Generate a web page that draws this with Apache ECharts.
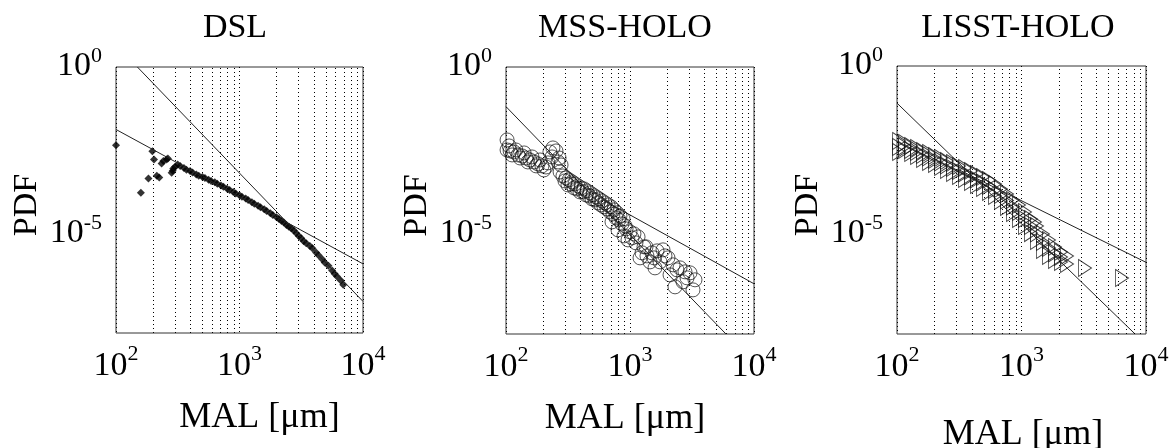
<!DOCTYPE html>
<html>
<head>
<meta charset="utf-8">
<script src="https://cdn.jsdelivr.net/npm/echarts@6/dist/echarts.min.js"></script>
<style>
  html, body { margin: 0; padding: 0; background: #fff; }
  #chart { width: 1171px; height: 448px; }
</style>
</head>
<body>
<div id="chart"></div>
<script>
// Panel titles and axis text
const panelTitles = ['DSL', 'MSS-HOLO', 'LISST-HOLO'];
const xAxisName = 'MAL [μm]';
const yAxisName = 'PDF';

// Axis ranges and labelled decades
const xRange = [100, 10000];
const yRange = [1e-8, 1];
const yLabelledExponents = [0, -5];

// Dotted grid positions (minor x decades and the single y grid line)
const xMinorGrid = [200, 300, 400, 500, 600, 700, 800, 900, 2000, 3000, 4000, 5000, 6000, 7000, 8000, 9000];
const yGrid = [1e-5];

// DSL: [MAL, PDF]
const dslPoints = [
  [100, 4.47e-3], [159, 1.66e-4], [183, 4.47e-4], [197, 2.95e-3], [203, 1.66e-3], [214, 5.37e-4],
  [224, 4.79e-4], [234, 1.26e-3], [242, 1.48e-3], [257, 1.66e-3], [263, 1.78e-3], [282, 6.61e-4],
  [288, 7.59e-4], [291, 8.91e-4], [301, 1.0e-3],
  [316, 1.175e-3], [331, 1.047e-3], [355, 9.12e-4], [372, 8.13e-4], [398, 7.41e-4], [417, 6.76e-4],
  [447, 5.89e-4], [468, 5.37e-4], [501, 4.90e-4], [525, 4.57e-4], [562, 4.07e-4], [589, 3.72e-4],
  [631, 3.39e-4], [661, 3.09e-4], [708, 2.75e-4], [741, 2.51e-4], [794, 2.19e-4], [832, 2.00e-4],
  [891, 1.74e-4], [933, 1.58e-4], [1000, 1.38e-4], [1047, 1.26e-4], [1122, 1.10e-4], [1175, 1.00e-4],
  [1259, 8.51e-5], [1318, 7.76e-5], [1413, 6.76e-5], [1479, 6.03e-5], [1585, 5.25e-5], [1660, 4.68e-5],
  [1778, 3.98e-5], [1862, 3.55e-5], [1995, 3.02e-5], [2089, 2.69e-5], [2188, 2.34e-5], [2291, 2.09e-5],
  [2399, 1.78e-5], [2512, 1.58e-5], [2630, 1.38e-5], [2754, 1.20e-5], [2884, 1.00e-5], [3020, 8.32e-6],
  [3162, 7.08e-6], [3311, 5.75e-6], [3467, 5.01e-6], [3715, 4.17e-6], [3890, 3.55e-6], [4169, 2.63e-6],
  [4365, 2.19e-6], [4677, 1.66e-6], [4898, 1.32e-6], [5248, 1.05e-6], [5623, 7.59e-7], [5888, 6.03e-7],
  [6166, 5.01e-7], [6607, 3.80e-7], [6918, 2.82e-7]
];
const dslFitSteep = [[149, 1], [10000, 8.9e-8]];
const dslFitShallow = [[100, 1.32e-2], [10000, 1.2e-6]];

// MSS-HOLO: [MAL, PDF]
const mssPoints = [
  [102, 6.52e-3], [102, 3.27e-3], [108, 3.05e-3], [116, 2.85e-3], [125, 2.32e-3], [135, 2.16e-3],
  [145, 1.88e-3], [156, 1.64e-3], [168, 1.43e-3], [181, 1.25e-3], [195, 1.09e-3], [210, 1.01e-3],
  [112, 2.32e-3], [130, 1.88e-3], [150, 1.43e-3], [175, 1.09e-3], [202, 8.24e-4],
  [106, 4.31e-3], [120, 3.27e-3], [140, 2.66e-3], [162, 2.02e-3], [188, 1.64e-3], [218, 1.34e-3],
  [226, 2.85e-3], [239, 3.76e-3], [253, 3.05e-3], [235, 2.02e-3], [268, 1.88e-3], [263, 1.43e-3], [278, 1.16e-3],
  [273, 7.18e-4], [288, 5.45e-4], [305, 4.75e-4], [322, 4.14e-4], [341, 3.61e-4], [360, 3.14e-4],
  [381, 2.74e-4], [403, 2.38e-4], [426, 2.22e-4], [450, 1.94e-4], [476, 1.69e-4], [503, 1.47e-4],
  [532, 1.28e-4], [562, 1.12e-4], [594, 9.73e-5], [628, 8.48e-5], [665, 7.38e-5], [703, 6.43e-5],
  [743, 5.24e-5], [785, 4.26e-5], [830, 3.46e-5], [879, 2.81e-5],
  [316, 2.93e-4], [354, 2.38e-4], [395, 1.81e-4], [442, 1.47e-4], [494, 1.12e-4], [552, 8.48e-5],
  [617, 6.43e-5], [690, 4.56e-5], [771, 3.01e-5], [861, 1.99e-5], [929, 1.41e-5],
  [299, 3.86e-4], [334, 3.14e-4], [374, 2.22e-4], [418, 1.81e-4], [467, 1.37e-4], [522, 1.04e-4],
  [584, 7.38e-5], [652, 5.61e-5], [729, 3.97e-5], [815, 2.62e-5], [912, 1.74e-5],
  [716, 2.29e-5], [800, 1.32e-5], [895, 8.71e-6], [1000, 1.15e-5], [1076, 1.00e-5], [1161, 8.13e-6], [964, 6.61e-6],
  [1038, 7.59e-6], [1117, 5.38e-6],
  [1250, 2.70e-6], [1205, 1.91e-6], [1371, 2.19e-6], [1504, 2.70e-6], [1652, 3.10e-6], [1846, 3.32e-6],
  [1590, 9.59e-7], [1746, 1.45e-6], [2223, 1.18e-6], [2531, 9.59e-7], [2777, 7.28e-7], [2884, 4.82e-7],
  [3221, 2.10e-7], [2307, 2.59e-7], [3342, 4.20e-7], [3047, 6.79e-7], [2025, 1.91e-6], [1297, 4.08e-6],
  [1449, 1.45e-6], [1346, 4.08e-6], [1563, 1.91e-6], [1914, 2.19e-6], [2393, 8.36e-7], [2675, 3.66e-7],
  [2103, 5.92e-7]
];
const mssFitSteep = [[100, 6.5e-2], [5940, 1e-8]];
const mssFitShallow = [[603, 1.05e-4], [10000, 3.2e-7]];

// LISST-HOLO: [MAL, PDF]
const lisstPoints = [
  [104, 5.77e-3], [104, 3.82e-3], [104, 2.71e-3], [116, 5.03e-3], [116, 3.11e-3], [130, 4.09e-3],
  [130, 2.53e-3], [145, 3.56e-3], [145, 2.06e-3], [162, 2.90e-3], [162, 1.67e-3], [181, 2.53e-3],
  [181, 1.36e-3], [202, 2.06e-3], [202, 1.19e-3], [226, 1.79e-3], [226, 9.66e-4], [252, 1.46e-3],
  [252, 7.87e-4], [282, 1.27e-3], [282, 6.40e-4], [315, 1.03e-3], [315, 5.20e-4], [352, 9.02e-4],
  [352, 4.24e-4], [393, 7.34e-4], [393, 3.44e-4], [439, 5.97e-4], [439, 2.81e-4], [491, 4.86e-4],
  [491, 2.28e-4], [548, 3.95e-4], [548, 1.73e-4], [613, 3.01e-4], [613, 1.32e-4], [684, 2.13e-4],
  [684, 9.33e-5], [765, 1.51e-4], [765, 6.18e-5], [855, 1.00e-4], [855, 4.09e-5], [955, 7.10e-5],
  [955, 2.71e-5], [1067, 4.38e-5], [1067, 1.67e-5], [1192, 2.71e-5], [1192, 1.03e-5], [1332, 1.67e-5],
  [1332, 5.97e-6], [1488, 9.66e-6], [1488, 3.21e-6], [1663, 6.40e-6], [1663, 2.13e-6], [1858, 3.95e-6],
  [1858, 1.62e-6], [2076, 2.81e-6], [2076, 1.41e-6], [2320, 2.13e-6], [2320, 1.23e-6],
  [116, 3.95e-3], [130, 3.11e-3], [145, 2.71e-3], [162, 2.20e-3], [181, 1.86e-3], [202, 1.56e-3],
  [226, 1.32e-3], [252, 1.07e-3], [282, 9.02e-4], [315, 7.34e-4], [352, 6.18e-4], [393, 5.03e-4],
  [439, 4.09e-4], [491, 3.33e-4], [548, 2.62e-4], [613, 1.99e-4], [684, 1.41e-4], [765, 9.66e-5],
  [855, 6.40e-5], [955, 4.38e-5], [1067, 2.71e-5], [1192, 1.67e-5], [1332, 1.00e-5], [1488, 5.57e-6],
  [1663, 3.69e-6], [1858, 2.53e-6], [2076, 1.99e-6],
  [1283, 2.20e-5], [3236, 9.33e-7], [6417, 4.70e-7]
];
const lisstFitSteep = [[100, 7.8e-2], [8170, 1e-8]];
const lisstFitShallow = [[316, 7.9e-4], [10000, 1.38e-6]];

// Plot boxes
const panels = [
  { left: 116, top: 67, width: 247, height: 266, titleX: 235, xNamePad: [0, 0, 0, 40], xNameGap: 67 },
  { left: 506, top: 67, width: 248, height: 267, titleX: 625, xNamePad: [0, 10, 0, 0], xNameGap: 67 },
  { left: 897, top: 66, width: 249, height: 268, titleX: 1018, xNamePad: [0, 0, 0, 3], xNameGap: 83 }
];

const FONT = '"Liberation Serif", "Times New Roman", serif';
const INK = '#000';

function expOf(v) { return Math.round(Math.log10(v)); }

const xLabelRich = {
  b: { fontFamily: FONT, fontSize: 34, color: INK, lineHeight: 40, verticalAlign: 'bottom' },
  s: { fontFamily: FONT, fontSize: 22, color: INK, lineHeight: 22, verticalAlign: 'top' }
};
const yLabelRich = {
  b: { fontFamily: FONT, fontSize: 34, color: INK, lineHeight: 38, verticalAlign: 'bottom' },
  s: { fontFamily: FONT, fontSize: 22, color: INK, lineHeight: 22, verticalAlign: 'top' }
};

const grids = [], xAxes = [], yAxes = [], series = [], graphics = [];

const markerSets = [
  { data: dslPoints, symbol: 'diamond', size: 8, style: { color: INK } },
  { data: mssPoints, symbol: 'circle', size: 14,
    style: { color: 'rgba(0,0,0,0)', borderColor: '#111', borderWidth: 0.9 } },
  { data: lisstPoints, symbol: 'path://M0,0L13,8.5L0,17Z', size: [13, 17],
    style: { color: 'rgba(0,0,0,0)', borderColor: '#111', borderWidth: 0.9 } }
];
const fits = [
  [dslFitSteep, dslFitShallow],
  [mssFitSteep, mssFitShallow],
  [lisstFitSteep, lisstFitShallow]
];

panels.forEach((p, i) => {
  grids.push({
    left: p.left, top: p.top, width: p.width, height: p.height,
    outerBoundsMode: 'none', containLabel: false,
    show: true, borderColor: '#333', borderWidth: 1, backgroundColor: 'transparent'
  });
  xAxes.push({
    type: 'log', gridIndex: i, min: xRange[0], max: xRange[1], logBase: 10,
    name: xAxisName, nameLocation: 'middle', nameGap: p.xNameGap,
    nameTextStyle: { fontFamily: FONT, fontSize: 36, color: INK, padding: p.xNamePad },
    axisLine: { show: false }, axisTick: { show: false },
    axisLabel: {
      margin: 10,
      formatter: v => '{b|10}{s|' + expOf(v) + '}',
      rich: xLabelRich
    },
    splitLine: { show: true, lineStyle: { color: INK, width: 1, type: [1, 3] } }
  });
  yAxes.push({
    type: 'log', gridIndex: i, min: yRange[0], max: yRange[1], logBase: 10,
    name: yAxisName, nameLocation: 'middle', nameGap: 72,
    nameTextStyle: { fontFamily: FONT, fontSize: 34, color: INK, padding: [0, 10, 0, 0] },
    axisLine: { show: false }, axisTick: { show: false },
    axisLabel: {
      margin: 14,
      padding: [0, 0, 5, 0],
      formatter: v => {
        const e = expOf(v);
        return yLabelledExponents.indexOf(e) >= 0 ? '{b|10}{s|' + e + '}' : '';
      },
      rich: yLabelRich
    },
    splitLine: { show: false }
  });

  // dotted grid lines through the axis scales
  series.push({
    type: 'line', xAxisIndex: i, yAxisIndex: i, data: [], silent: true,
    markLine: {
      silent: true, symbol: ['none', 'none'], label: { show: false },
      lineStyle: { color: INK, width: 1, type: [1, 3] },
      data: xMinorGrid.map(v => ({ xAxis: v })).concat(yGrid.map(v => ({ yAxis: v })))
    }
  });

  const m = markerSets[i];
  series.push({
    type: 'scatter', xAxisIndex: i, yAxisIndex: i, data: m.data,
    symbol: m.symbol, symbolSize: m.size, itemStyle: m.style, z: 3
  });

  fits[i].forEach(f => {
    series.push({
      type: 'line', xAxisIndex: i, yAxisIndex: i, data: f, showSymbol: false, symbol: 'none',
      lineStyle: { color: '#222', width: 1 }, z: 4, clip: true
    });
  });

  graphics.push({
    type: 'text', x: p.titleX, y: 28,
    style: {
      text: panelTitles[i], fill: INK, font: '34px ' + FONT,
      align: 'center', verticalAlign: 'middle', textAlign: 'center', textVerticalAlign: 'middle'
    }
  });
});

const chart = echarts.init(document.getElementById('chart'), null, { renderer: 'canvas' });
chart.setOption({
  animation: false,
  backgroundColor: '#fff',
  grid: grids,
  xAxis: xAxes,
  yAxis: yAxes,
  series: series,
  graphic: graphics
});
</script>
</body>
</html>
